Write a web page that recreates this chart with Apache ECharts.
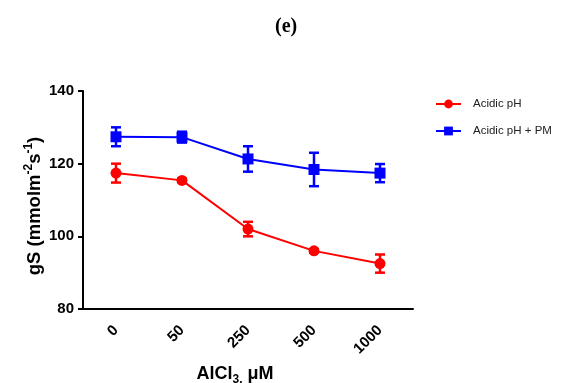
<!DOCTYPE html>
<html>
<head>
<meta charset="utf-8">
<script src="https://cdn.jsdelivr.net/npm/echarts@6/dist/echarts.min.js"></script>
<style>
  html, body { margin: 0; padding: 0; background: #fff; }
  #chart { width: 563px; height: 383px; }
</style>
</head>
<body>
<div id="chart"></div>
<script>
const doses = ['0', '50', '250', '500', '1000']
const yTicks = [80, 100, 120, 140]
const acidicMean = [117.4, 115.4, 102, 96, 92.5]
const acidicErr = [2.6, 0.5, 2, 0.5, 2.5]
const acidicPmMean = [127.4, 127.3, 121.3, 118.4, 117.4]
const acidicPmErr = [2.6, 1.5, 3.5, 4.6, 2.5]

const RED = '#ff0000'
const BLUE = '#0000ff'
const font = 'Arial, "Liberation Sans", sans-serif'

const chart = echarts.init(document.getElementById('chart'))

function errorBars (name, color, mean, err) {
  return {
    name: name,
    type: 'custom',
    z: 3,
    data: mean.map((m, i) => [i, m - err[i], m + err[i]]),
    renderItem: function (params, api) {
      const lo = api.coord([api.value(0), api.value(1)])
      const hi = api.coord([api.value(0), api.value(2)])
      const half = 5
      const style = { stroke: color, lineWidth: 2.5, fill: null }
      return {
        type: 'group',
        children: [
          { type: 'line', shape: { x1: lo[0], y1: lo[1], x2: hi[0], y2: hi[1] }, style: style },
          { type: 'line', shape: { x1: lo[0] - half, y1: lo[1], x2: lo[0] + half, y2: lo[1] }, style: style },
          { type: 'line', shape: { x1: hi[0] - half, y1: hi[1], x2: hi[0] + half, y2: hi[1] }, style: style }
        ]
      }
    }
  }
}

const option = {
  animation: false,
  title: {
    text: '(e)',
    left: 270,
    top: 12,
    textStyle: { fontFamily: '"Liberation Serif", "Times New Roman", serif', fontWeight: 'bold', fontSize: 20, color: '#000' }
  },
  legend: {
    orient: 'vertical',
    left: 435,
    top: 98,
    padding: 0,
    itemWidth: 25,
    itemHeight: 11,
    itemGap: 15,
    data: ['Acidic pH', 'Acidic pH + PM'],
    textStyle: { fontFamily: font, fontSize: 11.5, color: '#222', padding: [0, 0, 0, 7] }
  },
  grid: { left: 83, right: 150, top: 91, bottom: 74, outerBoundsMode: 'none', containLabel: false },
  xAxis: {
    type: 'category',
    data: doses,
    boundaryGap: true,
    name: '{b|AlCl}{s|3,}{b| μM}',
    nameLocation: 'middle',
    nameGap: 53,
    nameMoveOverlap: false,
    nameTextStyle: {
      padding: [0, 26, 0, 0],
      rich: {
        b: { fontFamily: font, fontWeight: 'bold', fontSize: 18, color: '#000' },
        s: { fontFamily: font, fontWeight: 'bold', fontSize: 12, color: '#000', padding: [12, 0, 0, 0] }
      }
    },
    axisLine: { lineStyle: { color: '#000', width: 2 } },
    axisTick: { alignWithLabel: true, length: 5, lineStyle: { color: '#000', width: 2 } },
    axisLabel: { rotate: 45, margin: 19, fontFamily: font, fontWeight: 'bold', fontSize: 15, color: '#000' }
  },
  yAxis: {
    type: 'value',
    min: yTicks[0],
    max: yTicks[yTicks.length - 1],
    interval: yTicks[1] - yTicks[0],
    name: '{b|gS (mmolm}{s|-2}{b|s}{s|-1}{b|)}',
    nameLocation: 'middle',
    nameGap: 36,
    nameRotate: 90,
    nameMoveOverlap: false,
    nameTextStyle: {
      padding: [0, 12, 0, 0],
      rich: {
        b: { fontFamily: font, fontWeight: 'bold', fontSize: 18.5, color: '#000' },
        s: { fontFamily: font, fontWeight: 'bold', fontSize: 12, color: '#000', padding: [0, 0, 12, 0] }
      }
    },
    splitLine: { show: false },
    axisLine: { show: true, lineStyle: { color: '#000', width: 2 } },
    axisTick: { show: true, length: 5, lineStyle: { color: '#000', width: 2 } },
    axisLabel: { margin: 9, fontFamily: font, fontWeight: 'bold', fontSize: 15, color: '#000' }
  },
  series: [
    {
      name: 'Acidic pH',
      type: 'line',
      data: acidicMean,
      symbol: 'circle',
      symbolSize: 11,
      z: 4,
      itemStyle: { color: RED },
      lineStyle: { color: RED, width: 2 }
    },
    {
      name: 'Acidic pH + PM',
      type: 'line',
      data: acidicPmMean,
      symbol: 'rect',
      symbolSize: 11,
      z: 4,
      itemStyle: { color: BLUE },
      lineStyle: { color: BLUE, width: 2 }
    },
    errorBars('Acidic pH err', RED, acidicMean, acidicErr),
    errorBars('Acidic pH + PM err', BLUE, acidicPmMean, acidicPmErr)
  ]
}

chart.setOption(option)
</script>
</body>
</html>
